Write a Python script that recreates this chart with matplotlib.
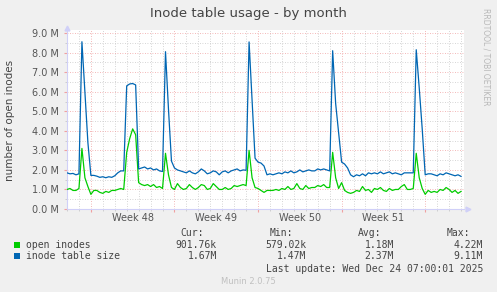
import matplotlib
matplotlib.use('Agg')
import matplotlib.pyplot as plt
from matplotlib.ticker import MultipleLocator, FuncFormatter

# inode table size (millions), one sample every 6 hours
inode_table = [
    1.85, 1.80, 1.82, 1.75, 1.80, 8.56, 6.00, 3.40, 1.72, 1.72,
    1.68, 1.62, 1.65, 1.60, 1.65, 1.62, 1.70, 1.85, 1.95, 1.95,
    6.30, 6.40, 6.42, 6.35, 2.05, 2.10, 2.15, 2.05, 2.10, 2.00,
    2.05, 1.95, 1.92, 8.05, 5.10, 2.45, 2.10, 2.00, 1.95, 1.90,
    1.85, 1.95, 1.85, 1.80, 1.90, 2.05, 1.95, 1.80, 1.85, 1.95,
    1.90, 1.75, 1.90, 1.95, 1.85, 1.95, 2.00, 2.05, 1.95, 2.00,
    1.98, 8.55, 5.60, 2.60, 2.40, 2.35, 2.20, 1.75, 1.80, 1.75,
    1.80, 1.85, 1.80, 1.90, 1.85, 1.95, 1.85, 1.90, 2.00, 1.90,
    1.95, 2.00, 1.95, 1.95, 2.05, 2.00, 2.05, 2.00, 1.95, 8.10,
    5.40, 3.90, 2.40, 2.30, 2.10, 1.75, 1.65, 1.75, 1.70, 1.80,
    1.70, 1.85, 1.80, 1.85, 1.80, 1.90, 1.80, 1.85, 1.90, 1.80,
    1.85, 1.80, 1.75, 1.85, 1.85, 1.85, 1.85, 8.15, 6.20, 4.10,
    1.75, 1.80, 1.80, 1.75, 1.70, 1.80, 1.75, 1.85, 1.80, 1.75,
    1.70, 1.75, 1.67,
]

# open inodes (millions)
open_inodes = [
    1.00, 1.05, 0.95, 0.95, 1.05, 3.10, 1.60, 1.15, 0.75, 0.95,
    0.95, 0.85, 0.80, 0.90, 0.85, 0.95, 0.95, 1.00, 1.05, 1.00,
    2.90, 3.60, 4.10, 3.80, 1.35, 1.25, 1.20, 1.25, 1.15, 1.25,
    1.10, 1.15, 1.05, 2.85, 1.75, 1.10, 1.00, 1.30, 1.10, 1.00,
    1.05, 1.25, 1.10, 1.00, 1.10, 1.25, 1.20, 1.00, 1.05, 1.30,
    1.15, 1.00, 1.00, 1.10, 1.00, 1.05, 1.20, 1.15, 1.20, 1.25,
    1.20, 3.00, 1.60, 1.10, 1.05, 0.95, 0.85, 0.95, 0.95, 0.95,
    1.00, 0.95, 1.05, 1.00, 1.15, 1.00, 1.05, 1.30, 1.05, 1.00,
    1.20, 1.05, 1.10, 1.10, 1.20, 1.15, 1.25, 1.10, 1.10, 2.90,
    1.60, 1.05, 1.35, 0.95, 0.85, 0.80, 0.85, 0.95, 0.90, 1.15,
    0.95, 1.00, 0.85, 1.05, 1.00, 1.10, 0.95, 0.90, 1.05, 0.95,
    1.00, 1.00, 1.15, 1.25, 1.00, 1.00, 1.05, 2.85, 1.60, 1.05,
    0.75, 0.95, 0.85, 0.90, 0.85, 1.00, 0.95, 1.10, 1.00, 0.85,
    0.95, 0.80, 0.90,
]

days = [i * 0.25 for i in range(len(inode_table))]
week_starts = [2, 9, 16, 23, 30]
week_labels = ['Week 48', 'Week 49', 'Week 50', 'Week 51']

legend_names = ['open inodes', 'inode table size']
cur = ['901.76k', '1.67M']
mins = ['579.02k', '1.47M']
avgs = ['1.18M', '2.37M']
maxs = ['4.22M', '9.11M']

GREEN = '#00CC00'
BLUE = '#0066B3'
W, H = 497, 292


def fx(x):
    return x / W


def fy(y):
    return 1 - y / H


fig = plt.figure(figsize=(W / 100, H / 100), dpi=100, facecolor='#F0F0F0')
ax = fig.add_axes([fx(67), fy(209), (464 - 67) / W, (209 - 30) / H])
ax.set_facecolor('white')

ax.plot(days, open_inodes, color=GREEN, lw=0.9, zorder=3)
ax.plot(days, inode_table, color=BLUE, lw=0.9, zorder=4)

ax.set_xlim(0, 33.25)
ax.set_ylim(0, 9.16)

# grid: grey dotted minor, red dotted major
ax.xaxis.set_major_locator(plt.FixedLocator(week_starts))
ax.xaxis.set_minor_locator(MultipleLocator(1))
ax.yaxis.set_major_locator(MultipleLocator(1))
ax.yaxis.set_minor_locator(MultipleLocator(0.5))
ax.grid(which='minor', color='#C8C8C8', lw=0.6, ls=(0, (1, 2)), zorder=1)
ax.grid(which='major', color='#F0A0A0', lw=0.6, ls=(0, (1, 2)), zorder=2)
ax.set_axisbelow(True)

ax.yaxis.set_major_formatter(FuncFormatter(lambda v, p: '%.1f M' % v))
ax.tick_params(axis='y', which='major', labelsize=7, labelcolor='#555555',
               length=2, color='#F0A0A0', pad=4)
ax.tick_params(axis='y', which='minor', length=1.5, color='#C8C8C8')
ax.tick_params(axis='x', which='both', labelbottom=False, length=2,
               color='#F0A0A0')
ax.tick_params(axis='x', which='minor', color='#C8C8C8', length=1.5)

for s in ['top', 'right']:
    ax.spines[s].set_visible(False)
for s in ['left', 'bottom']:
    ax.spines[s].set_color('#D0D0F8')
    ax.spines[s].set_linewidth(0.8)

# axis arrows
ax.plot([0], [1.012], marker='^', ms=3.5, color='#D0D0F8',
        transform=ax.transAxes, clip_on=False)
ax.plot([1.01], [0], marker='>', ms=3.5, color='#D0D0F8',
        transform=ax.transAxes, clip_on=False)

for i, lab in enumerate(week_labels):
    mid = (week_starts[i] + week_starts[i + 1]) / 2
    ax.text(mid, -0.025, lab, transform=ax.get_xaxis_transform(),
            ha='center', va='top', fontsize=7, color='#555555')

fig.text(fx(248), fy(13), 'Inode table usage - by month', ha='center',
         va='center', fontsize=9.5, color='#444444')
fig.text(fx(10), fy(120), 'number of open inodes', rotation=90,
         ha='center', va='center', fontsize=7.5, color='#444444')
fig.text(fx(486), fy(8), 'RRDTOOL / TOBI OETIKER', rotation=270,
         ha='center', va='top', fontsize=5.5, color='#B8B8B8')

mono = dict(family='DejaVu Sans Mono', fontsize=7, color='#444444', va='center')
fig.text(fx(204), fy(233), 'Cur:', ha='right', **mono)
fig.text(fx(293), fy(233), 'Min:', ha='right', **mono)
fig.text(fx(381), fy(233), 'Avg:', ha='right', **mono)
fig.text(fx(470), fy(233), 'Max:', ha='right', **mono)

for row, (name, col) in enumerate(zip(legend_names, [GREEN, BLUE])):
    y = 244.5 + row * 11.5
    fig.patches.append(plt.Rectangle((fx(14), fy(y + 3)), 6 / W, 6 / H,
                                     transform=fig.transFigure,
                                     facecolor=col, edgecolor='none'))
    fig.text(fx(26), fy(y), name, ha='left', **mono)
    fig.text(fx(217), fy(y), cur[row], ha='right', **mono)
    fig.text(fx(306), fy(y), mins[row], ha='right', **mono)
    fig.text(fx(394), fy(y), avgs[row], ha='right', **mono)
    fig.text(fx(483), fy(y), maxs[row], ha='right', **mono)

fig.text(fx(483), fy(269), 'Last update: Wed Dec 24 07:00:01 2025',
         ha='right', **mono)
fig.text(fx(248), fy(281), 'Munin 2.0.75', ha='center', va='center',
         fontsize=6, color='#C0C0C0')

fig.savefig('out.png', dpi=100, facecolor=fig.get_facecolor())
